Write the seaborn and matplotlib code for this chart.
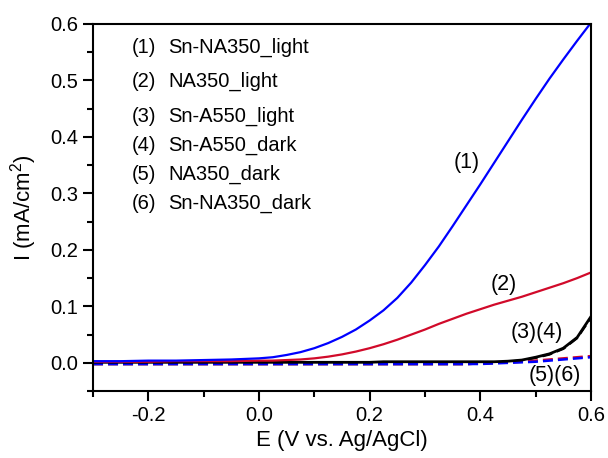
import matplotlib
matplotlib.use("Agg")
import matplotlib.pyplot as plt
import seaborn as sns
from matplotlib.ticker import MultipleLocator, FormatStrFormatter

# Potential (V vs. Ag/AgCl)
E = [-0.30, -0.25, -0.20, -0.15, -0.10, -0.05,
     0.000, 0.025, 0.050, 0.075, 0.100, 0.125, 0.150, 0.175, 0.200, 0.225,
     0.250, 0.275, 0.300, 0.325, 0.350, 0.375, 0.400, 0.425, 0.450, 0.475,
     0.500, 0.525, 0.550, 0.575, 0.600]

# Current density (mA/cm^2)
sn_na350_light = [0.003, 0.003, 0.004, 0.004, 0.005, 0.006,
                  0.008, 0.010, 0.014, 0.019, 0.026, 0.035, 0.046, 0.059, 0.075, 0.093,
                  0.115, 0.142, 0.173, 0.206, 0.242, 0.279, 0.316, 0.354, 0.392, 0.430,
                  0.467, 0.503, 0.537, 0.570, 0.602]
na350_light = [0.002, 0.002, 0.002, 0.003, 0.003, 0.003,
               0.004, 0.004, 0.005, 0.006, 0.008, 0.011, 0.015, 0.020, 0.026, 0.033,
               0.041, 0.050, 0.059, 0.069, 0.078, 0.087, 0.095, 0.103, 0.110, 0.117,
               0.125, 0.133, 0.141, 0.150, 0.160]
sn_a550_light = [0.001, 0.001, 0.001, 0.001, 0.001, 0.001,
                 0.001, 0.001, 0.001, 0.001, 0.001, 0.001, 0.001, 0.001, 0.001, 0.002,
                 0.002, 0.002, 0.002, 0.002, 0.002, 0.002, 0.002, 0.002, 0.003, 0.005,
                 0.010, 0.016, 0.026, 0.045, 0.082]
sn_a550_dark = [-0.002, -0.002, -0.002, -0.002, -0.002, -0.002,
                -0.002, -0.002, -0.002, -0.002, -0.002, -0.002, -0.002, -0.002, -0.002,
                -0.002, -0.002, -0.002, -0.002, -0.002, -0.002, -0.002, -0.001, 0.000,
                0.002, 0.004, 0.009, 0.015, 0.025, 0.044, 0.080]
na350_dark = [-0.002, -0.002, -0.002, -0.002, -0.002, -0.002,
              -0.002, -0.002, -0.002, -0.002, -0.002, -0.002, -0.002, -0.002, -0.002,
              -0.002, -0.002, -0.002, -0.002, -0.002, -0.002, -0.002, -0.001, 0.000,
              0.001, 0.002, 0.004, 0.006, 0.008, 0.010, 0.012]
sn_na350_dark = [-0.002, -0.002, -0.002, -0.002, -0.002, -0.002,
                 -0.002, -0.002, -0.002, -0.002, -0.002, -0.002, -0.002, -0.002, -0.002,
                 -0.002, -0.002, -0.002, -0.002, -0.002, -0.002, -0.002, -0.002, -0.001,
                 0.000, 0.001, 0.002, 0.004, 0.006, 0.008, 0.010]

legend_numbers = ["(1)", "(2)", "(3)", "(4)", "(5)", "(6)"]
legend_names = ["Sn-NA350_light", "NA350_light", "Sn-A550_light",
                "Sn-A550_dark", "NA350_dark", "Sn-NA350_dark"]

sns.set_style("ticks")
plt.rcParams["font.family"] = ["Liberation Sans", "DejaVu Sans"]
plt.rcParams["mathtext.fontset"] = "custom"
plt.rcParams["mathtext.rm"] = "Liberation Sans"
plt.rcParams["text.color"] = "black"
plt.rcParams["axes.labelcolor"] = "black"
plt.rcParams["xtick.color"] = "black"
plt.rcParams["ytick.color"] = "black"

fig, ax = plt.subplots(figsize=(6.08, 4.58), dpi=100)
fig.subplots_adjust(left=0.153, right=0.972, top=0.948, bottom=0.146)

BLUE = "#0000ff"
RED = "#d10a2a"
dash = (0, (4, 2))

# dark-current traces first, light traces on top
sns.lineplot(x=E, y=sn_a550_dark, ax=ax, color="black", linewidth=1.8, linestyle=dash)
sns.lineplot(x=E, y=na350_dark, ax=ax, color=RED, linewidth=1.8, linestyle=dash)
sns.lineplot(x=E, y=sn_na350_dark, ax=ax, color=BLUE, linewidth=1.8, linestyle=dash)
sns.lineplot(x=E, y=sn_a550_light, ax=ax, color="black", linewidth=2.0)
sns.lineplot(x=E, y=na350_light, ax=ax, color=RED, linewidth=1.6)
sns.lineplot(x=E, y=sn_na350_light, ax=ax, color=BLUE, linewidth=1.6)

ax.set_xlim(-0.3, 0.6)
ax.set_ylim(-0.05, 0.6)
ax.xaxis.set_major_locator(MultipleLocator(0.2))
ax.xaxis.set_minor_locator(MultipleLocator(0.1))
ax.yaxis.set_major_locator(MultipleLocator(0.1))
ax.yaxis.set_minor_locator(MultipleLocator(0.05))
ax.xaxis.set_major_formatter(FormatStrFormatter("%.1f"))
ax.yaxis.set_major_formatter(FormatStrFormatter("%.1f"))

for s in ax.spines.values():
    s.set_visible(True)
    s.set_linewidth(1.5)
    s.set_color("black")
ax.tick_params(which="both", direction="out", width=1.5, colors="black",
               top=False, right=False, labelsize=14.5)
ax.tick_params(which="major", length=7)
ax.tick_params(which="minor", length=4)

ax.set_xlabel("E (V vs. Ag/AgCl)", fontsize=16, labelpad=4)
ax.set_ylabel("I (mA/cm$^2$)", fontsize=16, labelpad=8)

# label list in the upper left
rows_y = [0.935, 0.842, 0.749, 0.670, 0.591, 0.510]
for num, name, yy in zip(legend_numbers, legend_names, rows_y):
    ax.text(0.078, yy, num, transform=ax.transAxes, fontsize=14.5, va="center", ha="left")
    ax.text(0.151, yy, name, transform=ax.transAxes, fontsize=14.5, va="center", ha="left")

# curve tags
ax.text(0.376, 0.354, "(1)", fontsize=15.5, ha="center", va="center")
ax.text(0.443, 0.138, "(2)", fontsize=15.5, ha="center", va="center")
ax.text(0.503, 0.053, "(3)(4)", fontsize=15.5, ha="center", va="center")
ax.text(0.535, -0.022, "(5)(6)", fontsize=15.5, ha="center", va="center")

fig.savefig("out.png", dpi=100)
